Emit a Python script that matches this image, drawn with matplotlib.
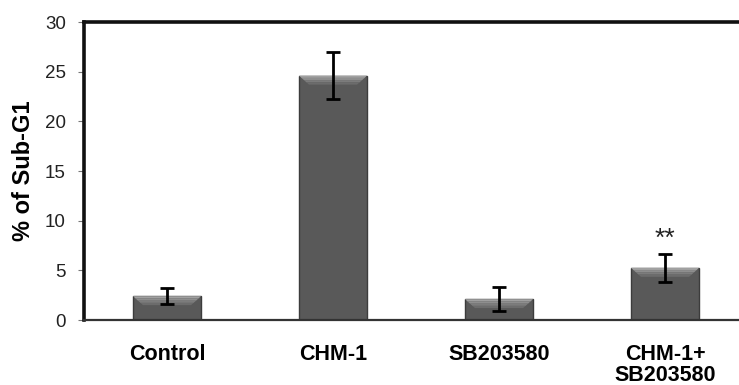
import numpy as np
import matplotlib
matplotlib.use("Agg")
import matplotlib.pyplot as plt
from matplotlib.patches import Polygon

plt.rcParams['font.family'] = ['Liberation Sans', 'DejaVu Sans']

# data
groups = ['Control', 'CHM-1', 'SB203580', 'CHM-1+\nSB203580']
sub_g1 = [2.4, 24.6, 2.1, 5.25]
sem = [0.8, 2.35, 1.2, 1.4]
marks = ['', '', '', '**']

fig = plt.figure(figsize=(7.39, 3.85), dpi=100)
ax = fig.add_axes([0.1137, 0.1688, 0.8985, 0.7740])

x = np.arange(len(groups))
bars = ax.bar(x, sub_g1, width=0.41, color='#595959', edgecolor='#3c3c3c',
              linewidth=1.0, zorder=2)

# bevelled top of each bar, a few strips going from light to dark
dx, dy = 0.06, 0.9
shades = ['#a0a0a0', '#8e8e8e', '#7c7c7c', '#6c6c6c']
for b in bars:
    x0, x1 = b.get_x(), b.get_x() + b.get_width()
    top = b.get_height()
    n = len(shades)
    for i, c in enumerate(shades):
        f0, f1 = i / n, (i + 1) / n
        poly = Polygon([(x0 + dx * f0, top - dy * f0), (x1 - dx * f0, top - dy * f0),
                        (x1 - dx * f1, top - dy * f1), (x0 + dx * f1, top - dy * f1)],
                       closed=True, facecolor=c, edgecolor='none', zorder=3)
        ax.add_patch(poly)

ax.errorbar(x, sub_g1, yerr=sem, fmt='none', ecolor='black', elinewidth=2.0,
            capsize=5, capthick=2.0, zorder=4)

for xi, v, e, m in zip(x, sub_g1, sem, marks):
    if m:
        ax.text(xi, v + e + 0.3, m, ha='center', va='bottom', fontsize=19, color='#222')

ax.set_xlim(-0.5, 3.5)
ax.set_ylim(0, 30)
ax.set_yticks(range(0, 31, 5))
ax.set_xticks(x)
ax.set_xticklabels(groups, fontsize=15.5, fontweight='bold', linespacing=1.05)
ax.tick_params(axis='x', length=0, pad=17)
ax.tick_params(axis='y', length=4, width=0.8, color='#777', labelsize=13.5,
               labelcolor='#222', pad=9)
ax.set_ylabel('% of Sub-G1', fontsize=17, fontweight='bold', labelpad=7)

for s in ['left', 'top']:
    ax.spines[s].set_linewidth(2.6)
    ax.spines[s].set_color('#111')
ax.spines['bottom'].set_linewidth(1.6)
ax.spines['bottom'].set_color('#333')
ax.spines['right'].set_visible(False)

fig.savefig('out.png', dpi=100)
